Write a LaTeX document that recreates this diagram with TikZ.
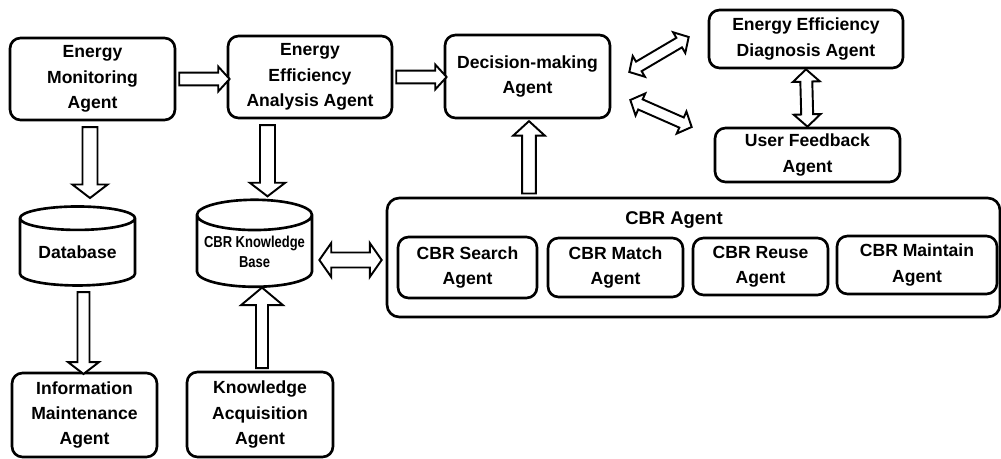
\documentclass[tikz,border=0pt]{standalone}
\usepackage{fontspec}
\setmainfont{Liberation Sans}
\usetikzlibrary{shapes.geometric, shapes.arrows, calc}

\newcommand{\agentfont}{\fontsize{10}{14.5}\selectfont\bfseries}
% hollow block arrow laid between two points
\newcommand{\hollowarrow}[4][]{%
  \path let \p1=#3, \p2=#4,
    \n1={veclen(\x2-\x1,\y2-\y1)}, \n2={atan2(\y2-\y1,\x2-\x1)} in
    node[#2, minimum height=\n1, rotate=\n2, #1] at ($(\p1)!0.5!(\p2)$) {};}

\tikzset{
  agent/.style={draw, line width=1.5pt, rounded corners=6pt, align=center, font=\agentfont, inner sep=1pt},
  store/.style={cylinder, shape border rotate=90, draw, line width=1.5pt, aspect=0.3, align=center, inner sep=0pt},
  flow/.style={single arrow, draw, line width=1.1pt, fill=white, inner xsep=0pt, inner ysep=3.1pt,
    single arrow head extend=3.4pt, single arrow tip angle=95},
  flowtwo/.style={double arrow, draw, line width=1.1pt, fill=white, inner xsep=0pt, inner ysep=2.6pt,
    double arrow head extend=3.7pt, double arrow tip angle=95},
}

\begin{document}
\begin{tikzpicture}
  \useasboundingbox (0,0) rectangle (20.02,-9.18);

  % --- Top row ---
  \node[agent, minimum width=3.3cm, minimum height=1.64cm] (mon) at (1.85,-1.58) {Energy\\Monitoring\\Agent};
  \node[agent, minimum width=3.28cm, minimum height=1.64cm] (eea) at (6.2,-1.54) {Energy\\Efficiency\\Analysis Agent};
  \node[agent, minimum width=3.3cm, minimum height=1.66cm] (dec) at (10.55,-1.53) {Decision-making\\Agent};
  \node[agent, minimum width=3.88cm, minimum height=1.16cm] (diag) at (16.12,-0.78) {Energy Efficiency\\Diagnosis Agent};
  \node[agent, minimum width=3.7cm, minimum height=1.08cm] (uf) at (16.15,-3.1) {User Feedback\\Agent};

  % --- Stores ---
  \node[store, minimum width=2.3cm, minimum height=1.58cm, font=\agentfont] (db) at (1.55,-5.05) {Database};
  \node[store, minimum width=2.3cm, minimum height=1.74cm, font=\fontsize{9}{11.5}\selectfont\bfseries] (kb) at (5.09,-5.03)
    {\scalebox{0.82}[1]{CBR Knowledge}\\\scalebox{0.82}[1]{Base}};

  % --- Bottom row ---
  \node[agent, minimum width=2.9cm, minimum height=1.68cm] (info) at (1.69,-8.3) {Information\\Maintenance\\Agent};
  \node[agent, minimum width=2.92cm, minimum height=1.7cm] (ack) at (5.2,-8.29) {Knowledge\\Acquisition\\Agent};

  % --- CBR Agent group ---
  \node[agent, rounded corners=7pt, minimum width=12.26cm, minimum height=2.38cm] (cbr) at (13.87,-5.15) {};
  \node[font=\fontsize{10.5}{12}\selectfont\bfseries] (cbrlabel) at (13.48,-4.4) {CBR Agent};
  \node[agent, minimum width=2.78cm, minimum height=1.22cm] (search) at (9.35,-5.35) {CBR Search\\Agent};
  \node[agent, minimum width=2.7cm, minimum height=1.18cm] (match) at (12.31,-5.35) {CBR Match\\Agent};
  \node[agent, minimum width=2.7cm, minimum height=1.14cm] (reuse) at (15.21,-5.33) {CBR Reuse\\Agent};
  \node[agent, minimum width=3.2cm, minimum height=1.16cm] (maintain) at (18.34,-5.3) {CBR Maintain\\Agent};

  % --- Arrows ---
  \hollowarrow{flow}{(mon.east)}{(mon.east -| eea.west)}
  \hollowarrow{flow}{(eea.east)}{(eea.east -| dec.west)}
  \hollowarrow[inner ysep=3.7pt, single arrow head extend=5.8pt, single arrow tip angle=105]{flow}
    {($(mon.south)+(-0.05,-0.06)$)}{($(mon.south |- db.north)+(-0.05,0.2)$)}
  \hollowarrow[inner ysep=3.7pt, single arrow head extend=5.8pt, single arrow tip angle=105]{flow}
    {($(eea.south)+(-0.85,-0.06)$)}{($(eea.south |- kb.north)+(-0.85,0.1)$)}
  \hollowarrow[inner ysep=2.85pt, single arrow head extend=5.35pt, single arrow tip angle=105]{flow}
    {($(info.north |- db.south)+(-0.02,-0.06)$)}{($(info.north)+(-0.02,0)$)}
  \hollowarrow[inner ysep=2.85pt, single arrow head extend=8.5pt, single arrow tip angle=100]{flow}
    {($(ack.north)+(0.04,0)$)}{($(ack.north |- kb.south)+(0.04,-0.04)$)}
  \hollowarrow[inner ysep=3.4pt, single arrow head extend=5.1pt, single arrow tip angle=95]{flow}
    {($(cbr.north -| dec.south)+(0.03,0)$)}{($(dec.south)+(0.03,-0.1)$)}
  \hollowarrow[inner ysep=3.7pt, double arrow head extend=5.4pt, double arrow tip angle=110]{flowtwo}
    {($(kb.east |- cbr.west)+(0.12,-0.05)$)}{($(cbr.west)+(-0.08,-0.05)$)}
  \hollowarrow{flowtwo}{($(dec.east)+(0.36,0.09)$)}{($(diag.west)+(-0.38,0.04)$)}
  \hollowarrow{flowtwo}{($(dec.east)+(0.38,-0.47)$)}{($(uf.west)+(-0.44,0.56)$)}
  \hollowarrow[inner ysep=2.85pt, double arrow head extend=4.25pt]{flowtwo}{(diag.south)}{(uf.north)}
\end{tikzpicture}
\end{document}
